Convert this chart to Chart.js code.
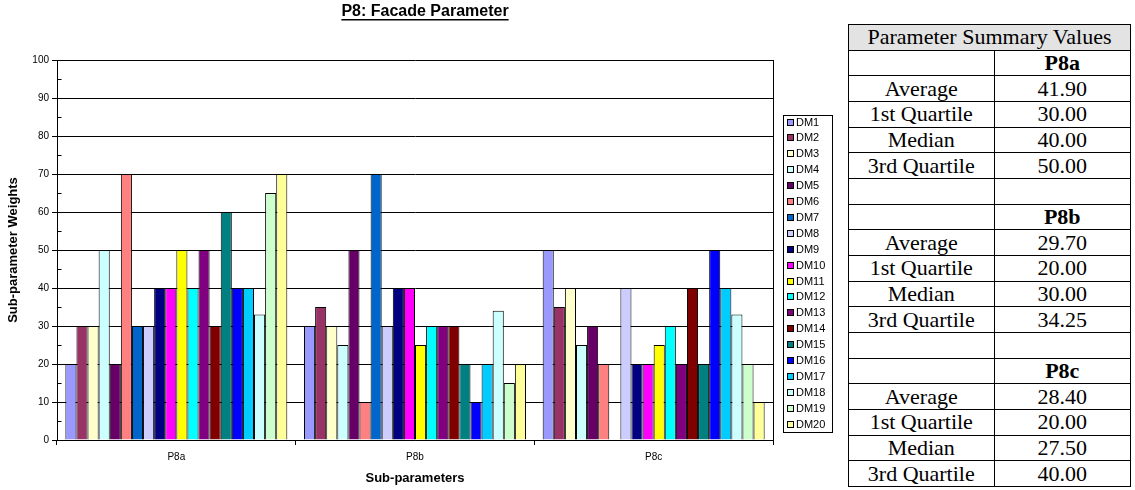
<!DOCTYPE html>
<html>
<head>
<meta charset="utf-8">
<script src="https://cdn.jsdelivr.net/npm/chart.js@4/dist/chart.umd.min.js"></script>
<style>
  body { margin: 0; background: #fff; }
  #wrap { position: relative; width: 1135px; height: 490px; }
  #chart { position: absolute; left: 0; top: 0; }
  #summary {
    position: absolute; left: 848px; top: 24px; width: 283px; height: 463px;
    border-collapse: collapse;
    font-family: "Liberation Serif", serif; font-size: 22px;
    border: 1.5px solid #000;
  }
  #summary td { border: 1px solid #000; padding: 0; text-align: center; line-height: 1; }
  #summary td.head { background: #e3e3e3; }
  #summary td.cat { font-weight: bold; }
</style>
</head>
<body>
<div id="wrap">
  <canvas id="chart" width="848" height="490"></canvas>
  <table id="summary"><colgroup><col style="width:146px"><col style="width:137px"></colgroup><tbody id="rows"></tbody></table>
</div>
<script>
// chart data
const categories = ['P8a', 'P8b', 'P8c'];
const seriesNames = ['DM1', 'DM2', 'DM3', 'DM4', 'DM5', 'DM6', 'DM7', 'DM8', 'DM9', 'DM10',
  'DM11', 'DM12', 'DM13', 'DM14', 'DM15', 'DM16', 'DM17', 'DM18', 'DM19', 'DM20'];
const p8aValues = [20, 30, 30, 50, 20, 70, 30, 30, 40, 40, 50, 40, 50, 30, 60, 40, 40, 33, 65, 70];
const p8bValues = [30, 35, 30, 25, 50, 10, 70, 30, 40, 40, 25, 30, 30, 30, 20, 10, 20, 34, 15, 20];
const p8cValues = [50, 35, 40, 25, 30, 20, 0, 40, 20, 20, 25, 30, 20, 40, 20, 50, 40, 33, 20, 10];
const seriesColors = ['#9999FF', '#993366', '#FFFFCC', '#CCFFFF', '#660066', '#FF8080', '#0066CC',
  '#CCCCFF', '#000080', '#FF00FF', '#FFFF00', '#00FFFF', '#800080', '#800000', '#008080',
  '#0000FF', '#00CCFF', '#CCFFFF', '#CCFFCC', '#FFFF99'];

// summary table data
const statLabels = ['Average', '1st Quartile', 'Median', '3rd Quartile'];
const p8aStats = ['41.90', '30.00', '40.00', '50.00'];
const p8bStats = ['29.70', '20.00', '30.00', '34.25'];
const p8cStats = ['28.40', '20.00', '27.50', '40.00'];

const FONT = 'Liberation Sans';

// build the table
let html = '<tr><td class="head" colspan="2">Parameter Summary Values</td></tr>';
[p8aStats, p8bStats, p8cStats].forEach((stats, k) => {
  if (k > 0) html += '<tr><td>&nbsp;</td><td>&nbsp;</td></tr>';
  html += `<tr><td>&nbsp;</td><td class="cat">${categories[k]}</td></tr>`;
  statLabels.forEach((lab, i) => {
    html += `<tr><td>${lab}</td><td>${stats[i]}</td></tr>`;
  });
});
document.getElementById('rows').innerHTML = html;

const datasets = seriesNames.map((name, i) => ({
  label: name,
  data: [p8aValues[i], p8bValues[i], p8cValues[i]],
  backgroundColor: seriesColors[i],
  borderColor: '#000',
  borderWidth: 1,
  categoryPercentage: 0.93,
  barPercentage: 1
}));

// title, plot border, minor ticks, boxed legend
const extras = {
  id: 'extras',
  afterDraw(chart) {
    const { ctx, chartArea } = chart;
    const y = chart.scales.y;
    ctx.save();
    ctx.strokeStyle = '#000';
    ctx.lineWidth = 1;
    ctx.beginPath();
    ctx.moveTo(Math.round(chartArea.right) + 0.5, chartArea.top);
    ctx.lineTo(Math.round(chartArea.right) + 0.5, chartArea.bottom);
    ctx.stroke();

    // minor ticks on y axis
    const ax = Math.round(chartArea.left) + 0.5;
    for (let v = 5; v < 100; v += 10) {
      const py = Math.round(y.getPixelForValue(v)) + 0.5;
      ctx.beginPath();
      ctx.moveTo(ax, py);
      ctx.lineTo(ax + 4, py);
      ctx.stroke();
    }

    // title
    ctx.fillStyle = '#000';
    ctx.font = `bold 16px "${FONT}"`;
    ctx.textAlign = 'center';
    ctx.textBaseline = 'middle';
    const title = 'P8: Facade Parameter';
    const tx = 425, ty = 12;
    ctx.fillText(title, tx, ty);
    const tw = ctx.measureText(title).width;
    ctx.fillRect(tx - tw / 2, ty + 7, tw, 1.5);

    // legend
    const lx = 783.5, ly = 115.5, lw = 49, lh = 317;
    ctx.strokeRect(lx, ly, lw, lh);
    ctx.font = `11px "${FONT}"`;
    ctx.textAlign = 'left';
    chart.data.datasets.forEach((ds, i) => {
      const cy = 122 + i * 15.9;
      ctx.fillStyle = ds.backgroundColor;
      ctx.fillRect(787, Math.round(cy - 3.5), 7, 7);
      ctx.strokeRect(787.5, Math.round(cy - 3.5) + 0.5, 6, 6);
      ctx.fillStyle = '#000';
      ctx.fillText(ds.label, 796, cy + 0.5);
    });
    ctx.restore();
  }
};

new Chart(document.getElementById('chart'), {
  type: 'bar',
  data: { labels: categories, datasets: datasets },
  options: {
    responsive: false,
    animation: false,
    layout: { padding: { top: 60, right: 75, left: 0, bottom: 0 } },
    plugins: {
      legend: { display: false },
      tooltip: { enabled: false },
      title: { display: false }
    },
    scales: {
      x: {
        grid: { offset: true, drawOnChartArea: false, color: '#000', tickLength: 5 },
        border: { color: '#000' },
        ticks: { font: { family: FONT, size: 10 }, color: '#000', padding: 6 },
        title: {
          display: true, text: 'Sub-parameters', color: '#000',
          font: { family: FONT, size: 13, weight: 'bold' }, padding: 4
        },
        afterFit(scale) { scale.height = 50; }
      },
      y: {
        min: 0,
        max: 100,
        ticks: { stepSize: 10, font: { family: FONT, size: 10 }, color: '#000', padding: 3 },
        grid: { color: '#000', tickLength: 5 },
        border: { color: '#000' },
        title: {
          display: true, text: 'Sub-parameter Weights', color: '#000',
          font: { family: FONT, size: 13, weight: 'bold' }, padding: 6
        },
        afterFit(scale) { scale.width = 57; }
      }
    }
  },
  plugins: [extras]
});
</script>
</body>
</html>
